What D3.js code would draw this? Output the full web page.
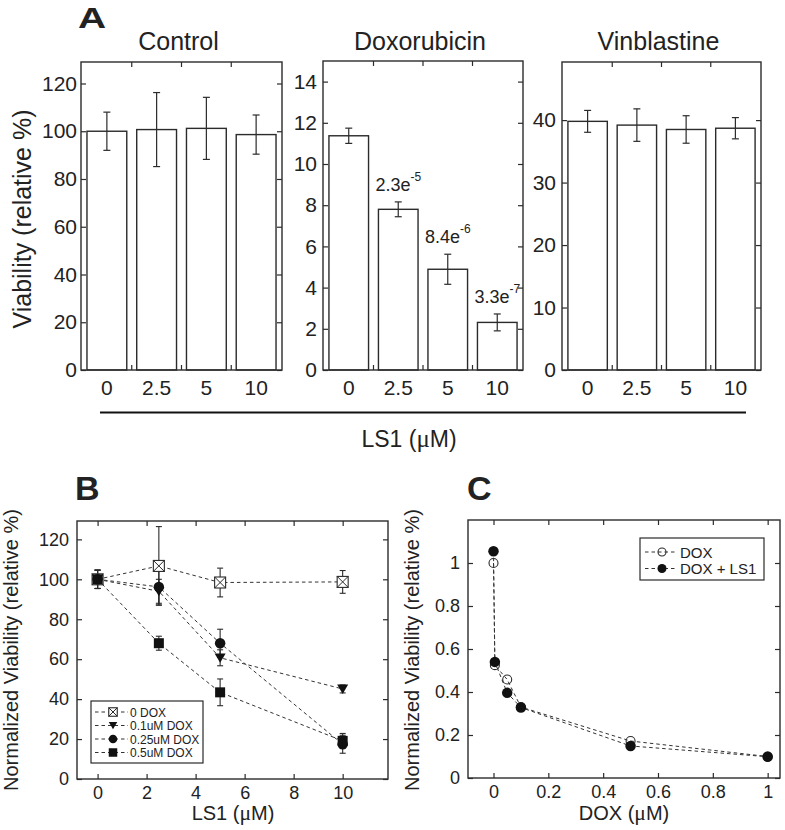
<!DOCTYPE html>
<html><head><meta charset="utf-8">
<script src="https://cdn.jsdelivr.net/npm/d3@7"></script>
<style>
body{margin:0;background:#fff}
svg{display:block}
text{font-family:"Liberation Sans",Arial,Helvetica,sans-serif;fill:#222}
</style>
</head><body><svg id="chart" width="785" height="830"></svg>
<script>
// ---------------- data ----------------
// Panel A
const lsConc = ["0", "2.5", "5", "10"];
const panelATitles = ["Control", "Doxorubicin", "Vinblastine"];
const controlMean = [100, 100.7, 101.2, 98.6];
const controlErr = [8, 15.5, 13, 8.2];
const doxMean = [11.37, 7.8, 4.89, 2.31];
const doxErr = [0.37, 0.36, 0.73, 0.41];
const doxPBase = ["", "2.3e", "8.4e", "3.3e"];
const doxPExp = ["", "-5", "-6", "-7"];
const vinMean = [39.8, 39.2, 38.5, 38.7];
const vinErr = [1.75, 2.6, 2.2, 1.7];
const controlTicks = [0, 20, 40, 60, 80, 100, 120];
const doxTicks = [0, 2, 4, 6, 8, 10, 12, 14];
const vinTicks = [0, 10, 20, 30, 40];

// Panel B
const lsX = [0, 2.5, 5, 10];
const bNames = ["0 DOX", "0.1uM DOX", "0.25uM DOX", "0.5uM DOX"];
const b0Dox = [100, 106.7, 98.4, 98.7];
const b0DoxErr = [4.6, 19.7, 7.2, 5.7];
const b01Dox = [100, 94, 60.7, 45.1];
const b01DoxErr = [4.6, 6, 4, 2];
const b025Dox = [100, 96.2, 68, 17.4];
const b025DoxErr = [4.6, 9, 7, 4.5];
const b05Dox = [100, 68, 43.4, 19.1];
const b05DoxErr = [4.6, 3.5, 6.7, 3.7];
const bXTicks = [0, 2, 4, 6, 8, 10];
const bYTicks = [0, 20, 40, 60, 80, 100, 120];

// Panel C
const doxConc = [0, 0.005, 0.05, 0.1, 0.5, 1];
const cDox = [1.0, 0.525, 0.458, 0.33, 0.172, 0.1];
const cDoxLS1 = [1.055, 0.54, 0.396, 0.328, 0.149, 0.099];
const cNames = ["DOX", "DOX + LS1"];
const cXTicks = [0, 0.2, 0.4, 0.6, 0.8, 1];
const cYTicks = [0, 0.2, 0.4, 0.6, 0.8, 1];

// ---------------- drawing ----------------
const svg = d3.select("#chart");
const INK = "#2b2b2b";
const FONT = '"Liberation Sans",Arial,Helvetica,sans-serif';
const SERIF = '"Liberation Serif","DejaVu Serif",serif';
const TICK = 5;
const fmt = d3.format("~g");

function styleAxis(a, fs) {
  a.attr("font-family", FONT).attr("font-size", fs);
  a.select(".domain").remove();
  a.selectAll("line").attr("stroke", INK).attr("stroke-width", 1.2);
  a.selectAll("text").attr("fill", INK);
}

function frame(g, x0, x1, y0, y1) {
  g.append("rect").attr("x", x0).attr("y", y0).attr("width", x1 - x0).attr("height", y1 - y0)
    .attr("fill", "none").attr("stroke", INK).attr("stroke-width", 1.4);
}

function yAxes(g, y, x0, x1, ticks, pad, fs) {
  const l = g.append("g").attr("transform", `translate(${x0},0)`)
    .call(d3.axisLeft(y).tickValues(ticks).tickSize(-TICK).tickPadding(pad).tickFormat(fmt));
  styleAxis(l, fs);
  const r = g.append("g").attr("transform", `translate(${x1},0)`)
    .call(d3.axisRight(y).tickValues(ticks).tickSize(-TICK).tickFormat(""));
  styleAxis(r, fs);
}

function xAxes(g, x, y0, y1, ticks, pad, fs) {
  const b = g.append("g").attr("transform", `translate(0,${y1})`)
    .call(d3.axisBottom(x).tickValues(ticks).tickSize(-TICK).tickPadding(pad).tickFormat(fmt));
  styleAxis(b, fs);
  const t = g.append("g").attr("transform", `translate(0,${y0})`)
    .call(d3.axisTop(x).tickValues(ticks).tickSize(-TICK).tickFormat(""));
  styleAxis(t, fs);
}

function unitLabel(sel, pre) {
  sel.append("tspan").text(pre + " (");
  sel.append("tspan").attr("font-family", SERIF).attr("font-size", "1.08em").text("\u03bc");
  sel.append("tspan").text("M)");
}

// ===== Panel A =====
const aLayout = [
  {x0: 81, x1: 282, y0: 62, y1: 370, dom: [0, 129], ticks: controlTicks, mean: controlMean, err: controlErr, pad: 4},
  {x0: 323, x1: 523, y0: 61, y1: 370, dom: [0, 15], ticks: doxTicks, mean: doxMean, err: doxErr, pad: 6},
  {x0: 562, x1: 761, y0: 62, y1: 370, dom: [0, 49.3], ticks: vinTicks, mean: vinMean, err: vinErr, pad: 6}
];

aLayout.forEach((p, pi) => {
  const g = svg.append("g");
  const x = d3.scaleBand().domain(lsConc).range([p.x0, p.x1]).paddingInner(0.2).paddingOuter(0.12);
  const y = d3.scaleLinear().domain(p.dom).range([p.y1, p.y0]);
  const rows = lsConc.map((c, i) => ({c, m: p.mean[i], e: p.err[i], i}));

  g.selectAll("rect.bar").data(rows).join("rect").attr("class", "bar")
    .attr("x", d => x(d.c)).attr("width", x.bandwidth())
    .attr("y", d => y(d.m)).attr("height", d => y(0) - y(d.m))
    .attr("fill", "#fff").attr("stroke", INK).attr("stroke-width", 1.4);
  const eg = g.selectAll("g.err").data(rows).join("g").attr("class", "err")
    .attr("stroke", INK).attr("stroke-width", 1.2);
  eg.append("line").attr("x1", d => x(d.c) + x.bandwidth() / 2).attr("x2", d => x(d.c) + x.bandwidth() / 2)
    .attr("y1", d => y(d.m + d.e)).attr("y2", d => y(d.m - d.e));
  [1, -1].forEach(s => eg.append("line")
    .attr("x1", d => x(d.c) + x.bandwidth() / 2 - 3.5).attr("x2", d => x(d.c) + x.bandwidth() / 2 + 3.5)
    .attr("y1", d => y(d.m + s * d.e)).attr("y2", d => y(d.m + s * d.e)));

  frame(g, p.x0, p.x1, p.y0, p.y1);
  yAxes(g, y, p.x0, p.x1, p.ticks, p.pad, 21);

  const xb = g.append("g").attr("transform", `translate(0,${p.y1})`)
    .call(d3.axisBottom(x).tickSize(0).tickPadding(10));
  styleAxis(xb, 21);
  const bounds = lsConc.slice(0, -1).map(c => x(c) + x.bandwidth() + (x.step() - x.bandwidth()) / 2);
  g.selectAll("line.bt").data(bounds).join("line").attr("class", "bt")
    .attr("x1", d => d).attr("x2", d => d).attr("y1", p.y1).attr("y2", p.y1 - TICK)
    .attr("stroke", INK).attr("stroke-width", 1.2);
  g.selectAll("line.tt").data(bounds).join("line").attr("class", "tt")
    .attr("x1", d => d).attr("x2", d => d).attr("y1", p.y0).attr("y2", p.y0 + TICK)
    .attr("stroke", INK).attr("stroke-width", 1.2);

  g.append("text").attr("x", (p.x0 + p.x1) / 2 - 3).attr("y", 50)
    .attr("text-anchor", "middle").attr("font-size", 25).text(panelATitles[pi]);

  if (pi === 1) {
    rows.filter(d => doxPBase[d.i]).forEach(d => {
      const t = g.append("text").attr("x", x(d.c) + x.bandwidth() / 2)
        .attr("y", y(d.m + d.e) - 11).attr("text-anchor", "middle").attr("font-size", 18);
      t.append("tspan").text(doxPBase[d.i]);
      t.append("tspan").attr("font-size", 12).attr("dy", -10).text(doxPExp[d.i]);
    });
  }
});

svg.append("text").attr("transform", "translate(31,219) rotate(-90)")
  .attr("text-anchor", "middle").attr("font-size", 25).text("Viability (relative %)");
svg.append("text").attr("transform", "translate(78,28) scale(1.3,1)").attr("font-size", 30)
  .attr("font-weight", "bold").attr("fill", "#000").text("A");
svg.append("line").attr("x1", 100).attr("x2", 746).attr("y1", 412.5).attr("y2", 412.5)
  .attr("stroke", "#111").attr("stroke-width", 2.2);
unitLabel(svg.append("text").attr("x", 409).attr("y", 447).attr("text-anchor", "middle").attr("font-size", 23), "LS1");

// ===== marker helper =====
function marker(g, type, cx, cy, s) {
  const h = s / 2;
  if (type === "xsquare") {
    g.append("rect").attr("x", cx - h).attr("y", cy - h).attr("width", s).attr("height", s)
      .attr("fill", "#fff").attr("stroke", INK).attr("stroke-width", 1.1);
    g.append("path").attr("d", `M${cx - h},${cy - h}L${cx + h},${cy + h}M${cx + h},${cy - h}L${cx - h},${cy + h}`)
      .attr("stroke", INK).attr("stroke-width", 1);
  } else if (type === "tri") {
    g.append("path").attr("d", `M${cx - h},${cy - h * 0.8}L${cx + h},${cy - h * 0.8}L${cx},${cy + h * 0.9}Z`)
      .attr("fill", "#111");
  } else if (type === "circle") {
    g.append("circle").attr("cx", cx).attr("cy", cy).attr("r", h).attr("fill", "#111");
  } else if (type === "square") {
    g.append("rect").attr("x", cx - h).attr("y", cy - h).attr("width", s).attr("height", s).attr("fill", "#111");
  } else if (type === "ocircle") {
    g.append("circle").attr("cx", cx).attr("cy", cy).attr("r", h).attr("fill", "none")
      .attr("stroke", INK).attr("stroke-width", 1.1);
  }
}

// ===== Panel B =====
{
  const x0 = 77, x1 = 388, y0 = 521, y1 = 779;
  const g = svg.append("g");
  const x = d3.scaleLinear().domain([-0.84, 11.85]).range([x0, x1]);
  const y = d3.scaleLinear().domain([0, 129.2]).range([y1, y0]);
  const series = [
    {name: bNames[0], v: b0Dox, e: b0DoxErr, m: "xsquare", s: 11},
    {name: bNames[1], v: b01Dox, e: b01DoxErr, m: "tri", s: 11},
    {name: bNames[2], v: b025Dox, e: b025DoxErr, m: "circle", s: 10.5},
    {name: bNames[3], v: b05Dox, e: b05DoxErr, m: "square", s: 10}
  ];
  const line = d3.line().x(d => x(d[0])).y(d => y(d[1]));
  series.forEach(s => {
    g.append("path").attr("d", line(lsX.map((c, i) => [c, s.v[i]])))
      .attr("fill", "none").attr("stroke", "#333").attr("stroke-width", 1).attr("stroke-dasharray", "3.5,3");
  });
  series.forEach(s => {
    lsX.forEach((c, i) => {
      const cx = x(c);
      g.append("line").attr("x1", cx).attr("x2", cx).attr("y1", y(s.v[i] + s.e[i])).attr("y2", y(s.v[i] - s.e[i]))
        .attr("stroke", INK).attr("stroke-width", 1.1);
      [1, -1].forEach(k => g.append("line").attr("x1", cx - 3).attr("x2", cx + 3)
        .attr("y1", y(s.v[i] + k * s.e[i])).attr("y2", y(s.v[i] + k * s.e[i])).attr("stroke", INK).attr("stroke-width", 1.1));
    });
  });
  series.forEach(s => lsX.forEach((c, i) => marker(g, s.m, x(c), y(s.v[i]), s.s)));

  frame(g, x0, x1, y0, y1);
  yAxes(g, y, x0, x1, bYTicks, 8, 18);
  xAxes(g, x, y0, y1, bXTicks, 7, 18);

  const lg = g.append("g");
  lg.append("rect").attr("x", 91).attr("y", 701).attr("width", 112).attr("height", 62)
    .attr("fill", "#fff").attr("stroke", INK).attr("stroke-width", 1.2);
  series.forEach((s, i) => {
    const ly = 712 + i * 13.5;
    lg.append("line").attr("x1", 95).attr("x2", 128).attr("y1", ly).attr("y2", ly)
      .attr("stroke", "#333").attr("stroke-width", 1).attr("stroke-dasharray", "3.5,3");
    marker(lg, s.m, 113, ly, 8.5);
    lg.append("text").attr("x", 130).attr("y", ly + 4.5).attr("font-size", 12).text(s.name);
  });

  svg.append("text").attr("transform", "translate(18,650) rotate(-90)")
    .attr("text-anchor", "middle").attr("font-size", 20).text("Normalized Viability (relative %)");
  unitLabel(svg.append("text").attr("x", 233).attr("y", 820).attr("text-anchor", "middle").attr("font-size", 20), "LS1");
  svg.append("text").attr("x", 75).attr("y", 500).attr("font-size", 34).attr("font-weight", "bold")
    .attr("fill", "#000").text("B");
}

// ===== Panel C =====
{
  const x0 = 468, x1 = 780, y0 = 520, y1 = 778;
  const g = svg.append("g");
  const x = d3.scaleLinear().domain([-0.093, 1.045]).range([x0, x1]);
  const y = d3.scaleLinear().domain([0, 1.2]).range([y1, y0]);
  const series = [
    {name: cNames[0], v: cDox, m: "ocircle", s: 9},
    {name: cNames[1], v: cDoxLS1, m: "circle", s: 10.5}
  ];
  const line = d3.line().x(d => x(d[0])).y(d => y(d[1]));
  series.forEach(s => {
    g.append("path").attr("d", line(doxConc.map((c, i) => [c, s.v[i]])))
      .attr("fill", "none").attr("stroke", "#333").attr("stroke-width", 1).attr("stroke-dasharray", "3.5,3");
  });
  series.forEach(s => doxConc.forEach((c, i) => marker(g, s.m, x(c), y(s.v[i]), s.s)));

  frame(g, x0, x1, y0, y1);
  yAxes(g, y, x0, x1, cYTicks, 8, 18);
  xAxes(g, x, y0, y1, cXTicks, 7, 18);

  const lg = g.append("g");
  lg.append("rect").attr("x", 640).attr("y", 538).attr("width", 124).attr("height", 42)
    .attr("fill", "#fff").attr("stroke", INK).attr("stroke-width", 1.2);
  series.forEach((s, i) => {
    const ly = 552 + i * 16.5;
    lg.append("line").attr("x1", 645).attr("x2", 677).attr("y1", ly).attr("y2", ly)
      .attr("stroke", "#333").attr("stroke-width", 1).attr("stroke-dasharray", "3.5,3");
    marker(lg, s.m, 662, ly, s.m === "circle" ? 9 : 8);
    lg.append("text").attr("x", 680).attr("y", ly + 5.5).attr("font-size", 15).text(s.name);
  });

  svg.append("text").attr("transform", "translate(419,650) rotate(-90)")
    .attr("text-anchor", "middle").attr("font-size", 20).text("Normalized Viability (relative %)");
  unitLabel(svg.append("text").attr("x", 624).attr("y", 820).attr("text-anchor", "middle").attr("font-size", 20), "DOX");
  svg.append("text").attr("x", 467).attr("y", 500).attr("font-size", 34).attr("font-weight", "bold")
    .attr("fill", "#000").text("C");
}
</script>
</body></html>
